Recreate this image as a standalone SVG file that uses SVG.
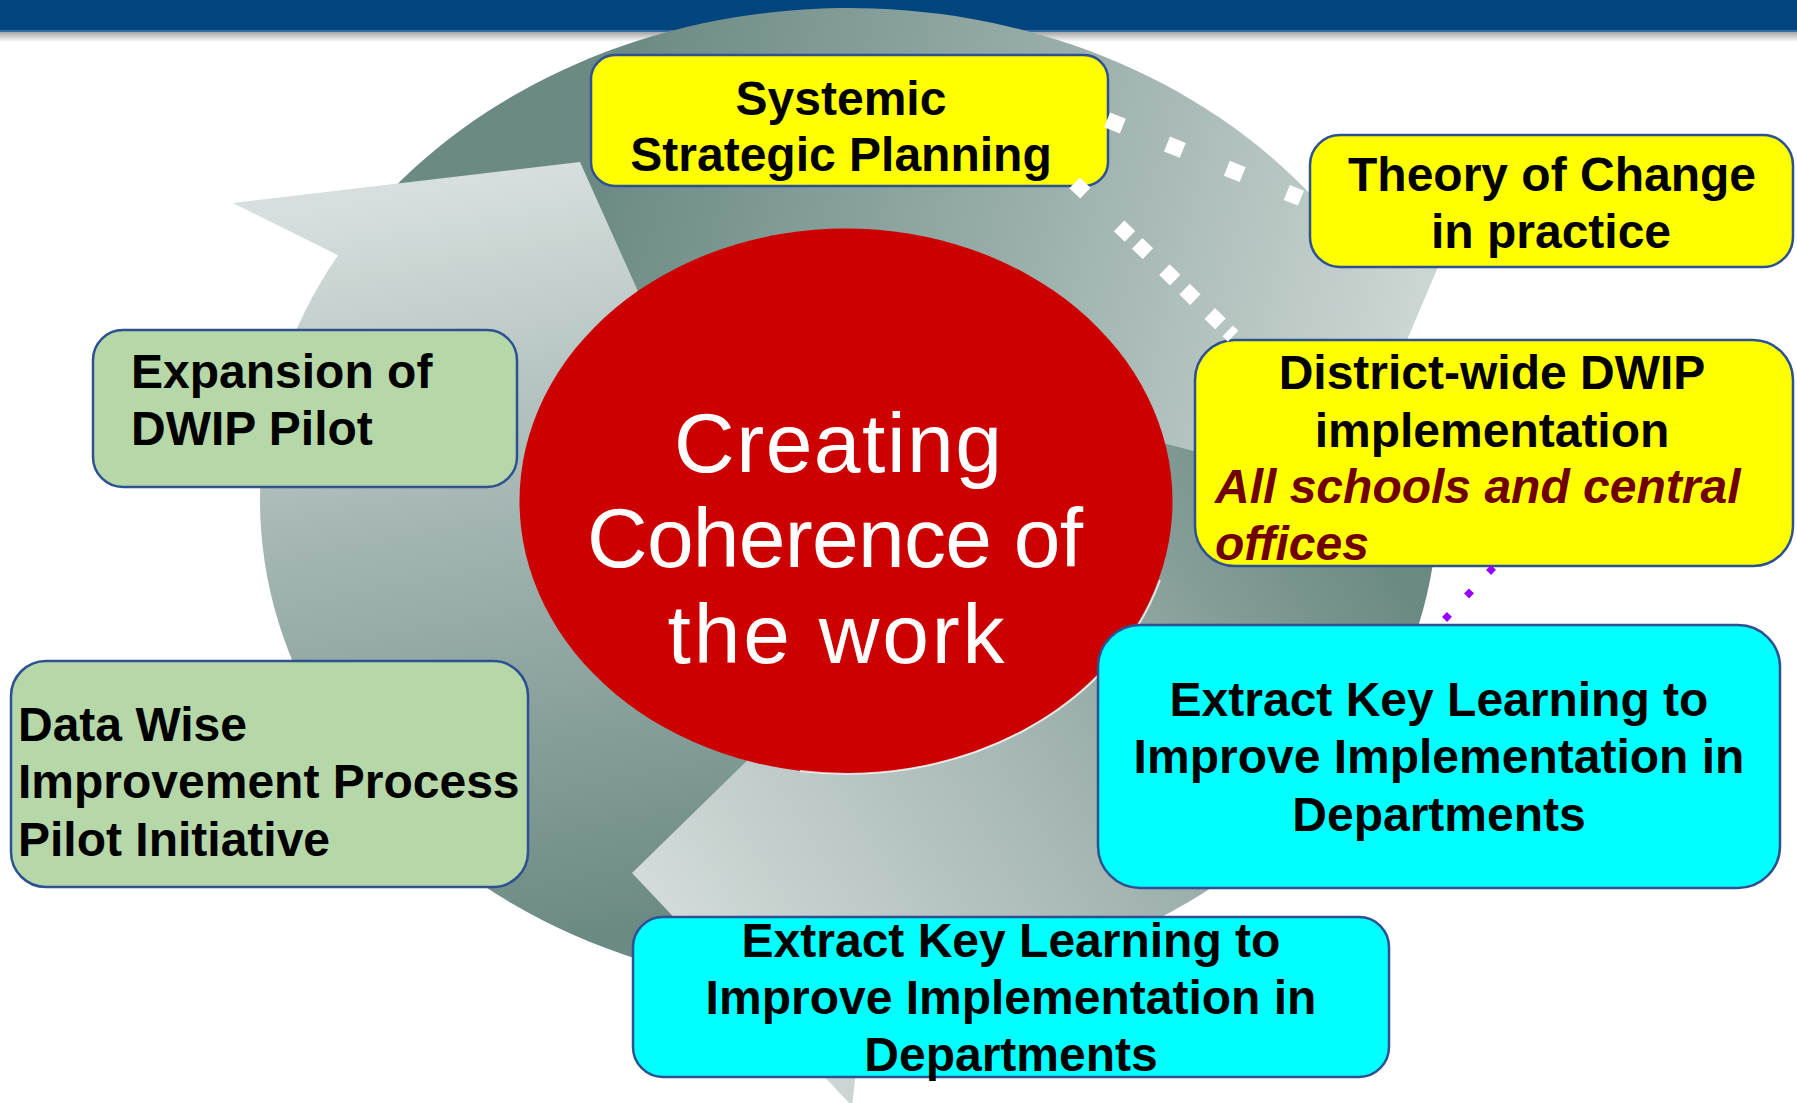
<svg xmlns="http://www.w3.org/2000/svg" width="1797" height="1103" viewBox="0 0 1797 1103">
<style>
.box{stroke:#2d5191;stroke-width:2.5}
.yel{fill:#ffff00}
.grn{fill:#b6d7a8}
.cyn{fill:#00ffff}
.t{font-family:"Liberation Sans",Arial,sans-serif;font-weight:bold;font-size:48px;fill:#000}
.it{font-style:italic;fill:#700000}
.c{text-anchor:middle}
.ct{font-family:"Liberation Sans",Arial,sans-serif;font-size:84px;fill:#fff;text-anchor:middle}
.wd{fill:none;stroke:#fff}
</style>
<defs>
<linearGradient id="gA" gradientUnits="userSpaceOnUse" x1="600" y1="150" x2="1400" y2="350">
<stop offset="0" stop-color="#6c8a84"/><stop offset="0.5" stop-color="#98ada8"/><stop offset="1" stop-color="#cbd5d2"/>
</linearGradient>
<linearGradient id="gB" gradientUnits="userSpaceOnUse" x1="650" y1="890" x2="1330" y2="470">
<stop offset="0" stop-color="#d2dbd9"/><stop offset="0.5" stop-color="#a5b6b2"/><stop offset="1" stop-color="#6c8a84"/>
</linearGradient>
<linearGradient id="gC" gradientUnits="userSpaceOnUse" x1="420" y1="190" x2="560" y2="940">
<stop offset="0" stop-color="#d6dfdd"/><stop offset="0.45" stop-color="#a2b4b0"/><stop offset="1" stop-color="#6c8a84"/>
</linearGradient>
<linearGradient id="shadow" x1="0" y1="0" x2="0" y2="1">
<stop offset="0" stop-color="#a6a6a6"/><stop offset="1" stop-color="#ffffff"/>
</linearGradient>
</defs>
<rect width="1797" height="1103" fill="#fff"/>
<g id="header">
<rect x="0" y="0" width="1797" height="30" fill="#01457f"/>
<rect x="0" y="30" width="1797" height="2" fill="#3b6ba5"/>
<rect x="0" y="32" width="1797" height="10" fill="url(#shadow)"/>
</g>
<g id="cycle">
<path d="M370,213.7 A589,492 0 0 1 1315.8,200 L1445,250 L1343,490 L1140,437 L1100,380 L1000,320 L846,290 L700,320 L560,330 Z" fill="url(#gA)"/>
<path d="M780,988.6 A589,492 0 0 1 338,255.3 L233,203 L580,162 L680,385 L580,450 L590,600 L740,700 L790,760 Z" fill="url(#gC)"/>
<path d="M1387.1,300 A589,492 0 0 1 865,991.8 L852,1106 L632,873 L760,748 L800,700 L1000,600 L1100,480 L1150,420 Z" fill="url(#gB)"/>
<path d="M1315.8,200 L1445,250 L1343,490 L1140,437 L1100,380 Z" fill="url(#gA)"/>
</g>
<g id="node-center">
<ellipse cx="846" cy="501" rx="326.5" ry="272.5" fill="#cc0000"/>
<path d="M1160,580 A326.5,272.5 0 0 1 800,771" fill="none" stroke="#fff" stroke-opacity="0.7" stroke-width="2"/>
<text class="ct" x="838" y="472" textLength="328">Creating</text>
<text class="ct" x="835" y="567" textLength="496">Coherence of</text>
<text class="ct" x="836" y="663" textLength="337">the work</text>
</g>
<g id="node-systemic">
<rect class="box yel" x="591" y="55" width="517" height="131" rx="24"/>
<text class="t c" x="841" y="115">Systemic</text>
<text class="t c" x="841" y="171">Strategic Planning</text>
</g>
<g id="node-theory">
<rect class="box yel" x="1310" y="135" width="483" height="132" rx="30"/>
<text class="t c" x="1552" y="191">Theory of Change</text>
<text class="t c" x="1551" y="248">in practice</text>
</g>
<g id="node-district">
<rect class="box yel" x="1195" y="340" width="598" height="226" rx="40"/>
<text class="t c" x="1492" y="389">District-wide DWIP</text>
<text class="t c" x="1492" y="447">implementation</text>
<text class="t it" x="1215" y="503">All schools and central</text>
<text class="t it" x="1215" y="560">offices</text>
</g>
<g id="node-expansion">
<rect class="box grn" x="93" y="330" width="424" height="157" rx="30"/>
<text class="t" x="131" y="388">Expansion of</text>
<text class="t" x="131" y="445">DWIP Pilot</text>
</g>
<g id="node-datawise">
<rect class="box grn" x="11" y="661" width="517" height="226" rx="35"/>
<text class="t" x="18" y="741">Data Wise</text>
<text class="t" x="18" y="798">Improvement Process</text>
<text class="t" x="18" y="856">Pilot Initiative</text>
</g>
<g id="node-extract-right">
<rect class="box cyn" x="1098" y="625" width="682" height="263" rx="42"/>
<text class="t c" x="1439" y="716">Extract Key Learning to</text>
<text class="t c" x="1439" y="773">Improve Implementation in</text>
<text class="t c" x="1439" y="831">Departments</text>
</g>
<g id="node-extract-bottom">
<rect class="box cyn" x="633" y="917" width="756" height="160" rx="30"/>
<text class="t c" x="1011" y="957">Extract Key Learning to</text>
<text class="t c" x="1011" y="1014">Improve Implementation in</text>
<text class="t c" x="1011" y="1071">Departments</text>
</g>
<g id="connectors">
<line class="wd" x1="1107.1" y1="119.8" x2="1300.9" y2="198.2" stroke-width="16" stroke-dasharray="17 47.6"/>
<line class="wd" x1="1074.6" y1="182.8" x2="1233.1" y2="336.1" stroke-width="15" stroke-dasharray="15 47 15 10 15 23 15 13 15 20 15 10 8 100"/>
<line x1="1493.4" y1="567.4" x2="1444.6" y2="619.5" stroke="#9900ff" stroke-width="7" stroke-dasharray="7 25.2"/>
</g>
</svg>
